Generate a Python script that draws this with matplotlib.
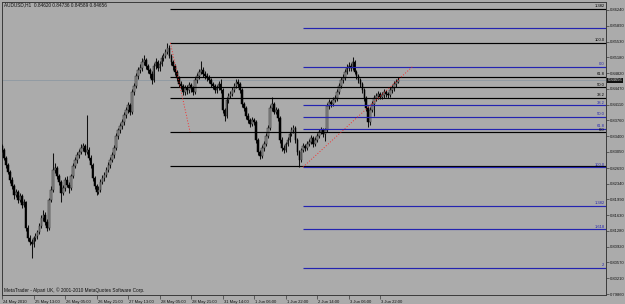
import numpy as np
import matplotlib
matplotlib.use("Agg")
import matplotlib.pyplot as plt
import matplotlib.transforms as mtransforms

# ---------------- data ----------------
title_text = "AUDUSD,H1  0.84620 0.84736 0.84589 0.84656"
copyright_text = "MetaTrader - Alpari UK, \u00a9 2001-2010 MetaQuotes Software Corp."
first_open = 0.8318
closes = [
 0.8310,0.8292,0.8276,0.8260,0.8242,0.8229,0.8208,0.8215,0.8197,0.8206,
 0.8186,0.8193,0.8134,0.8112,0.8103,0.8098,0.8112,0.8116,0.8125,0.8139,
 0.8157,0.8164,0.8148,0.8134,0.8197,0.8220,0.8265,0.8269,0.8251,0.8238,
 0.8213,0.8224,0.8242,0.8231,0.8224,0.8251,0.8274,0.8287,0.8298,0.8305,
 0.8314,0.8318,0.8305,0.8310,0.8292,0.8276,0.8247,0.8229,0.8215,0.8220,
 0.8238,0.8247,0.8253,0.8265,0.8276,0.8287,0.8298,0.8314,0.8341,0.8354,
 0.8363,0.8372,0.8388,0.8399,0.8411,0.8395,0.8440,0.8453,0.8476,0.8489,
 0.8494,0.8507,0.8512,0.8498,0.8489,0.8480,0.8467,0.8498,0.8507,0.8494,
 0.8503,0.8516,0.8521,0.8530,0.8539,0.8521,0.8507,0.8498,0.8485,0.8471,
 0.8458,0.8453,0.8440,0.8449,0.8444,0.8455,0.8449,0.8440,0.8467,0.8476,
 0.8485,0.8489,0.8480,0.8476,0.8471,0.8467,0.8458,0.8453,0.8444,0.8449,
 0.8458,0.8444,0.8399,0.8386,0.8422,0.8431,0.8435,0.8444,0.8453,0.8462,
 0.8458,0.8444,0.8413,0.8404,0.8386,0.8377,0.8368,0.8377,0.8372,0.8332,
 0.8305,0.8296,0.8314,0.8323,0.8341,0.8359,0.8404,0.8413,0.8395,0.8399,
 0.8381,0.8332,0.8314,0.8310,0.8323,0.8332,0.8345,0.8354,0.8359,0.8332,
 0.8305,0.8287,0.8310,0.8318,0.8314,0.8323,0.8327,0.8336,0.8323,0.8332,
 0.8341,0.8350,0.8354,0.8345,0.8354,0.8408,0.8417,0.8413,0.8422,0.8426,
 0.8440,0.8453,0.8467,0.8471,0.8485,0.8494,0.8498,0.8494,0.8507,0.8485,
 0.8476,0.8467,0.8458,0.8444,0.8426,0.8404,0.8372,0.8399,0.8413,0.8426,
 0.8431,0.8435,0.8429,0.8433,0.8440,0.8435,0.8433,0.8444,0.8449,0.8458,
 0.8462,0.84656]
highs = [
 0.8322,0.8314,0.8297,0.8280,0.8264,0.8248,0.8233,0.8222,0.8219,0.8213,
 0.8210,0.8200,0.8196,0.8140,0.8118,0.8110,0.8117,0.8124,0.8130,0.8146,
 0.8163,0.8175,0.8170,0.8155,0.8202,0.8228,0.8303,0.8280,0.8274,0.8256,
 0.8242,0.8230,0.8248,0.8250,0.8238,0.8256,0.8280,0.8294,0.8305,0.8312,
 0.8322,0.8326,0.8323,0.8388,0.8316,0.8298,0.8280,0.8252,0.8234,0.8228,
 0.8244,0.8253,0.8260,0.8272,0.8282,0.8294,0.8305,0.8320,0.8348,0.8360,
 0.8370,0.8380,0.8395,0.8406,0.8418,0.8416,0.8446,0.8460,0.8483,0.8497,
 0.8502,0.8515,0.8522,0.8517,0.8503,0.8494,0.8486,0.8504,0.8515,0.8512,
 0.8510,0.8522,0.8528,0.8537,0.8550,0.8545,0.8526,0.8512,0.8503,0.8490,
 0.8476,0.8465,0.8458,0.8456,0.8455,0.8462,0.8460,0.8454,0.8473,0.8482,
 0.8492,0.8510,0.8495,0.8486,0.8482,0.8477,0.8472,0.8463,0.8458,0.8456,
 0.8465,0.8470,0.8448,0.8404,0.8428,0.8437,0.8442,0.8450,0.8460,0.8470,
 0.8468,0.8462,0.8448,0.8418,0.8408,0.8392,0.8382,0.8384,0.8382,0.8376,
 0.8336,0.8310,0.8320,0.8330,0.8348,0.8365,0.8410,0.8428,0.8418,0.8406,
 0.8404,0.8385,0.8338,0.8320,0.8328,0.8338,0.8350,0.8362,0.8366,0.8363,
 0.8336,0.8310,0.8315,0.8325,0.8324,0.8330,0.8334,0.8343,0.8340,0.8338,
 0.8348,0.8357,0.8362,0.8360,0.8360,0.8414,0.8424,0.8422,0.8428,0.8434,
 0.8446,0.8460,0.8474,0.8480,0.8492,0.8502,0.8508,0.8505,0.8518,0.8512,
 0.8490,0.8481,0.8472,0.8462,0.8448,0.8430,0.8408,0.8406,0.8420,0.8432,
 0.8438,0.8442,0.8440,0.8440,0.8446,0.8445,0.8440,0.8450,0.8455,0.8464,
 0.8470,0.84736]
lows = [
 0.8304,0.8287,0.8270,0.8255,0.8236,0.8222,0.8200,0.8203,0.8190,0.8192,
 0.8180,0.8181,0.8128,0.8105,0.8095,0.8067,0.8092,0.8106,0.8110,0.8120,
 0.8134,0.8150,0.8142,0.8128,0.8130,0.8192,0.8215,0.8258,0.8245,0.8230,
 0.8193,0.8208,0.8218,0.8226,0.8212,0.8220,0.8246,0.8268,0.8281,0.8292,
 0.8300,0.8308,0.8298,0.8300,0.8287,0.8270,0.8240,0.8222,0.8208,0.8210,
 0.8216,0.8232,0.8240,0.8248,0.8260,0.8270,0.8282,0.8292,0.8310,0.8335,
 0.8348,0.8356,0.8366,0.8382,0.8392,0.8388,0.8390,0.8434,0.8448,0.8470,
 0.8482,0.8488,0.8500,0.8492,0.8482,0.8472,0.8458,0.8462,0.8492,0.8488,
 0.8488,0.8498,0.8510,0.8515,0.8525,0.8515,0.8500,0.8490,0.8478,0.8464,
 0.8450,0.8446,0.8432,0.8434,0.8436,0.8438,0.8440,0.8433,0.8436,0.8460,
 0.8470,0.8480,0.8474,0.8470,0.8465,0.8460,0.8452,0.8446,0.8438,0.8438,
 0.8444,0.8438,0.8392,0.8375,0.8382,0.8416,0.8426,0.8430,0.8440,0.8448,
 0.8452,0.8438,0.8406,0.8398,0.8380,0.8370,0.8362,0.8363,0.8365,0.8325,
 0.8298,0.8290,0.8292,0.8308,0.8318,0.8336,0.8355,0.8398,0.8390,0.8390,
 0.8375,0.8326,0.8308,0.8302,0.8305,0.8318,0.8327,0.8340,0.8348,0.8326,
 0.8298,0.8271,0.8283,0.8304,0.8308,0.8309,0.8318,0.8322,0.8317,0.8318,
 0.8327,0.8336,0.8345,0.8338,0.8330,0.8350,0.8402,0.8406,0.8408,0.8417,
 0.8420,0.8435,0.8448,0.8460,0.8466,0.8480,0.8488,0.8487,0.8490,0.8480,
 0.8470,0.8461,0.8452,0.8438,0.8420,0.8398,0.8362,0.8366,0.8394,0.8385,
 0.8420,0.8425,0.8423,0.8424,0.8427,0.8429,0.8427,0.8428,0.8438,0.8443,
 0.8452,0.84589]

date_labels = ["24 May 2010", "25 May 13:00", "26 May 05:00", "26 May 21:00",
               "27 May 13:00", "28 May 05:00", "28 May 21:00", "31 May 14:00",
               "1 Jun 06:00", "1 Jun 22:00", "2 Jun 14:00", "3 Jun 06:00",
               "3 Jun 22:00"]
bars_per_label = 16

price_ticks = [0.86240, 0.85890, 0.85530, 0.85180, 0.84820, 0.84470, 0.84110,
               0.83760, 0.83400, 0.83050, 0.82690, 0.82340, 0.81990, 0.81630,
               0.81280, 0.80920, 0.80570, 0.80210, 0.79860]
bid_price = 0.84656

# Fibonacci retracement 1 (black): anchor bars and prices (100 -> 0)
fib1_bars = [85.5, 95.5]
fib1_prices = [0.8550, 0.8350]
fib1_levels = [1.382, 1.0, 0.618, 0.5, 0.382, 0.0, -0.382]
fib1_names = ["1.382", "100.0", "61.8", "50.0", "38.2", "0.0", ""]
# Fibonacci retracement 2 (blue)
fib2_bars = [152.8, 208.5]
fib2_prices = [0.8271, 0.8497]
fib2_levels = [-0.382, 0.0, 0.382, 0.5, 0.618, 1.0, 1.382, 1.618, 2.0]
fib2_names = ["", "0.0", "38.2", "50.0", "61.8", "100.0", "1.382", "1.618", "2"]

# ---------------- style ----------------
BG = "#ababab"
BLUE = "#2424b0"
FONT = "Liberation Sans"
FS = 3.4
FS_AX = 3.0
plt.rcParams["font.family"] = [FONT, "DejaVu Sans"]

W, H = 625, 304
fig = plt.figure(figsize=(W / 100, H / 100), dpi=100, facecolor=BG)
ax = fig.add_axes([2 / W, 9 / H, 604 / W, 293 / H], facecolor=BG)

n = len(closes)
idx = np.arange(n)
opens = np.array([first_open] + closes[:-1])
c = np.array(closes)
hi = np.array(highs)
lo = np.array(lows)
up = c >= opens

ax.vlines(idx, lo, hi, color="#111111", lw=0.75, zorder=3)
body_lo = np.minimum(opens, c)
body_h = np.maximum(np.abs(c - opens), 0.00005)
ax.bar(idx[up], body_h[up], bottom=body_lo[up], width=0.85,
       color="#8f8f8f", edgecolor="#202020", linewidth=0.35, zorder=4)
ax.bar(idx[~up], body_h[~up], bottom=body_lo[~up], width=0.85,
       color="#000000", edgecolor="#000000", linewidth=0.35, zorder=4)

x_right = 306.7
ax.set_xlim(0.1, x_right)
ax.set_ylim(0.79838, 0.86419)

# bid line
ax.axhline(bid_price, color="#8e99a2", lw=0.6, zorder=2)

def draw_fib(bars, prices, levels, names, color):
    p100, p0 = prices
    for lv, nm in zip(levels, names):
        y = p0 + (p100 - p0) * lv
        ax.plot([bars[0], x_right], [y, y], color=color, lw=0.85, zorder=5,
                solid_capstyle="butt")
        if nm:
            ax.text(x_right - 0.8, y + 0.00010, nm, color=color, fontsize=FS_AX,
                    ha="right", va="bottom", zorder=6)
    ax.plot(bars, prices, color="#ff2020", lw=0.6, ls=(0, (1.2, 2.2)), zorder=6)

draw_fib(fib1_bars, fib1_prices, fib1_levels, fib1_names, "#000000")
draw_fib(fib2_bars, fib2_prices, fib2_levels, fib2_names, BLUE)

# axes frame
for s in ax.spines.values():
    s.set_color("#3a3a3a")
    s.set_linewidth(0.7)

# price axis on right
ax.yaxis.tick_right()
ax.set_yticks(price_ticks)
ax.set_yticklabels([f"{p:.5f}" for p in price_ticks])
ax.tick_params(axis="y", length=2, width=0.5, color="#3a3a3a", pad=0.6,
               labelsize=FS_AX, labelcolor="#111111")

# date axis at bottom
ax.set_xticks(np.arange(len(date_labels)) * bars_per_label)
ax.set_xticklabels(date_labels, ha="left")
ax.tick_params(axis="x", length=3, width=0.5, color="#3a3a3a", pad=0.5,
               labelsize=FS_AX, labelcolor="#111111")
offset = mtransforms.ScaledTranslation(1.2 / 100, 0, fig.dpi_scale_trans)
for lab in ax.get_xticklabels():
    lab.set_transform(lab.get_transform() + offset)

# current price box
ax.text(1.0 + 1.5 / 604, bid_price, f"{bid_price:.5f}", transform=ax.get_yaxis_transform(),
        fontsize=FS_AX, color="#e8e8e8", ha="left", va="center", zorder=10, clip_on=False,
        bbox=dict(boxstyle="square,pad=0.12", facecolor="#101010", edgecolor="none"))

# title and copyright
fig.text(4 / W, 1 - 5 / H, title_text, fontsize=FS, color="#111111", ha="left", va="center")
fig.text(4 / W, 1 - 290 / H, copyright_text, fontsize=FS, color="#111111", ha="left", va="center")

fig.savefig("out.png", dpi=100, facecolor=BG)
